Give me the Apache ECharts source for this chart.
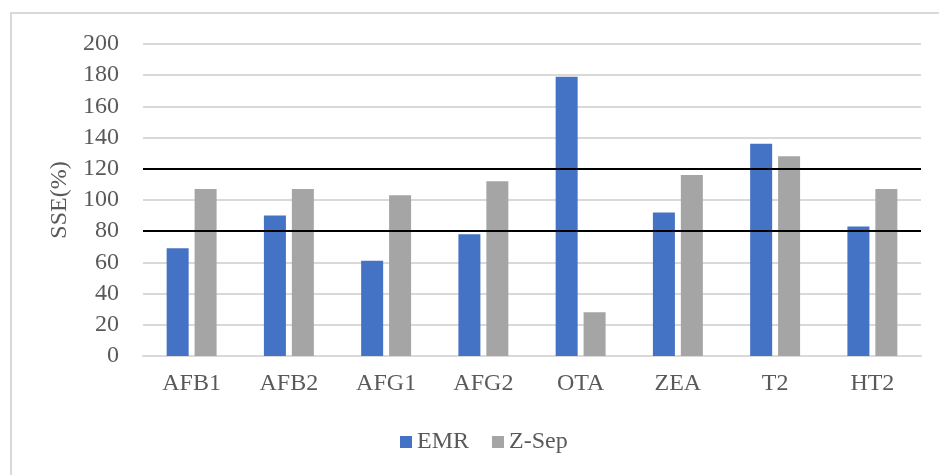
<!DOCTYPE html>
<html>
<head>
<meta charset="utf-8">
<script src="https://cdn.jsdelivr.net/npm/echarts@6/dist/echarts.min.js"></script>
<style>
  html, body { margin: 0; padding: 0; background: #fff; }
  #chart { width: 939px; height: 475px; }
</style>
</head>
<body>
<div id="chart"></div>
<script>
const categories = ['AFB1', 'AFB2', 'AFG1', 'AFG2', 'OTA', 'ZEA', 'T2', 'HT2'];
const emrValues = [69, 90, 61, 78, 179, 92, 136, 83];
const zsepValues = [107, 107, 103, 112, 28, 116, 128, 107];
const thresholdLines = [80, 120];
const seriesNames = ['EMR', 'Z-Sep'];

const fontFamily = '"Liberation Serif", "Times New Roman", serif';
const textColor = '#595959';

const chart = echarts.init(document.getElementById('chart'));
chart.setOption({
  animation: false,
  backgroundColor: '#fff',
  graphic: [{
    type: 'rect',
    shape: { x: 11, y: 13, width: 1000, height: 600 },
    style: { fill: 'none', stroke: '#D9D9D9', lineWidth: 2 },
    silent: true,
    z: -10
  }],
  grid: { left: 143, right: 18, top: 44, bottom: 119 },
  legend: {
    data: seriesNames,
    bottom: 21,
    left: 400,
    padding: 0,
    itemWidth: 12,
    itemHeight: 12,
    itemGap: 23,
    icon: 'rect',
    textStyle: { fontFamily: fontFamily, fontSize: 24, color: textColor }
  },
  xAxis: {
    type: 'category',
    data: categories,
    axisLine: { show: true, lineStyle: { color: '#D9D9D9', width: 2 } },
    axisTick: { show: false },
    axisLabel: { fontFamily: fontFamily, fontSize: 24, color: textColor, margin: 16 }
  },
  yAxis: {
    type: 'value',
    min: 0,
    max: 200,
    interval: 20,
    name: 'SSE(%)',
    nameLocation: 'middle',
    nameGap: 68,
    nameTextStyle: { fontFamily: fontFamily, fontSize: 24, color: textColor },
    axisLine: { show: false },
    axisTick: { show: false },
    axisLabel: { fontFamily: fontFamily, fontSize: 24, color: textColor, margin: 24 },
    splitLine: { lineStyle: { color: '#D9D9D9', width: 2 } }
  },
  series: [
    {
      name: seriesNames[0],
      type: 'bar',
      data: emrValues,
      barWidth: 22,
      barGap: '27%',
      itemStyle: { color: '#4472C4' },
      markLine: {
        silent: true,
        symbol: 'none',
        label: { show: false },
        lineStyle: { color: '#000', width: 2, type: 'solid' },
        data: thresholdLines.map(v => ({ yAxis: v }))
      }
    },
    {
      name: seriesNames[1],
      type: 'bar',
      data: zsepValues,
      barWidth: 22,
      barGap: '27%',
      itemStyle: { color: '#A5A5A5' }
    }
  ]
});
</script>
</body>
</html>
